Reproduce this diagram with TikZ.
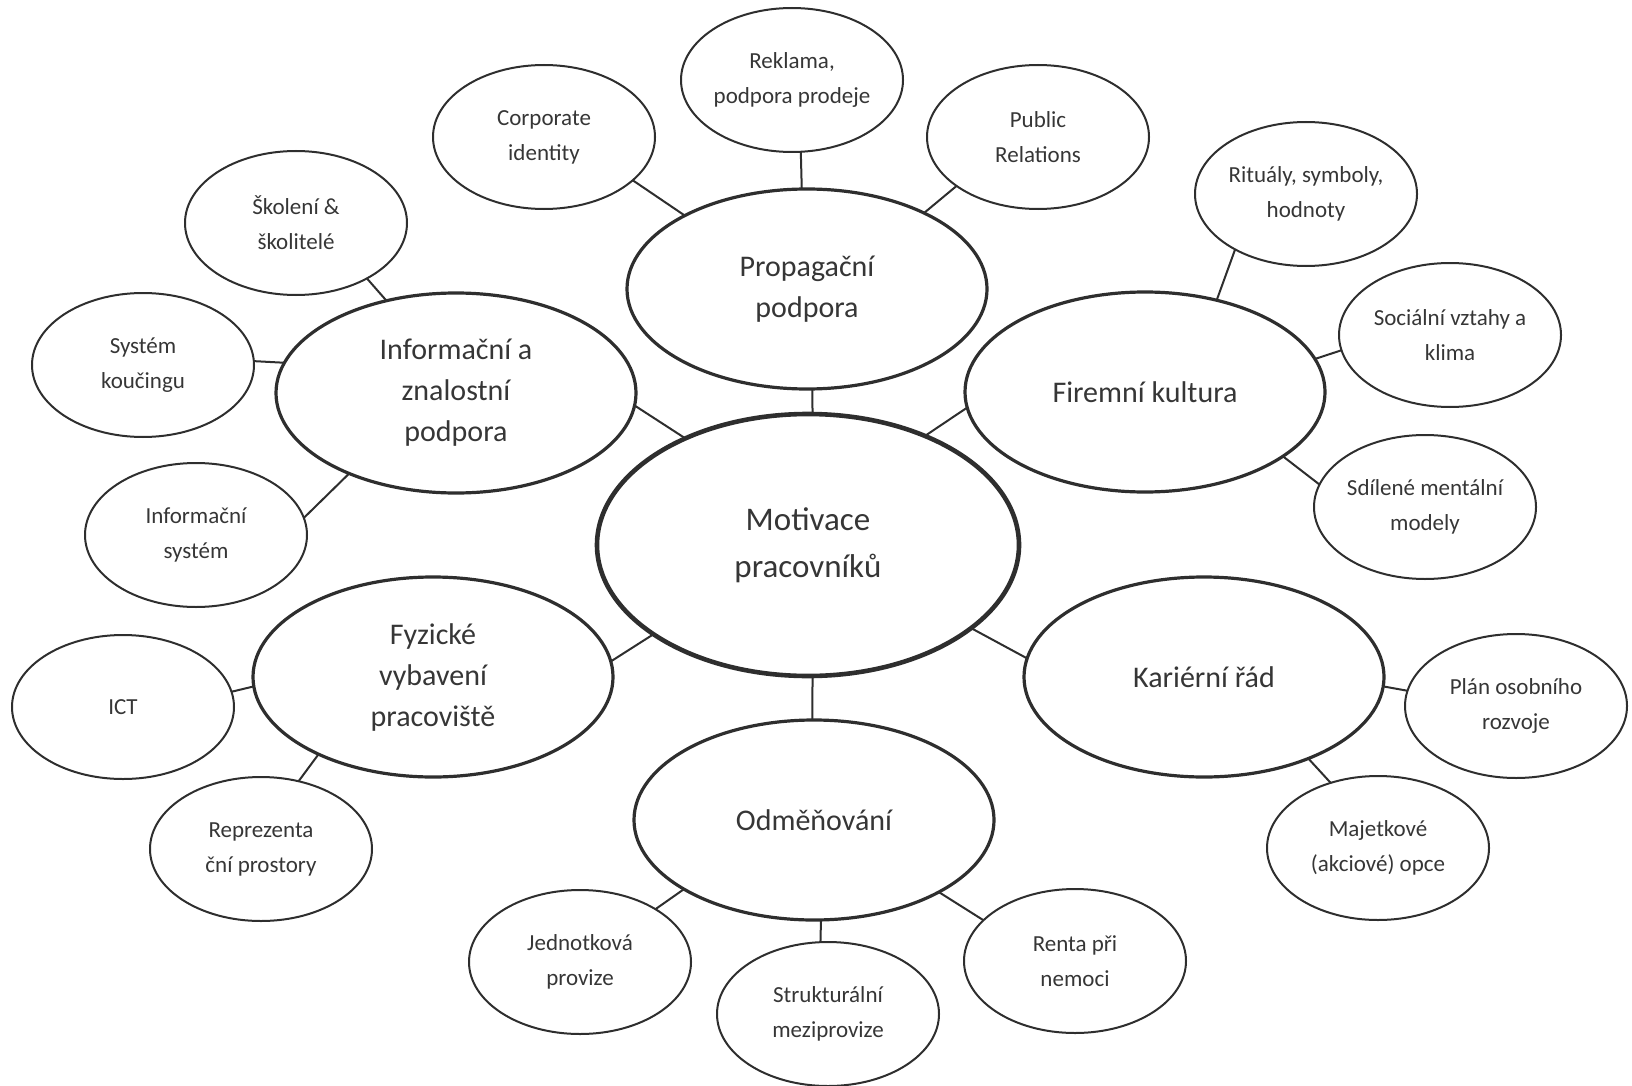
\documentclass[tikz,border=0pt]{standalone}
\usepackage{fontspec}
\setmainfont{Carlito}
\usetikzlibrary{shapes.geometric}
\definecolor{ink}{HTML}{2E2E2E}
\definecolor{txt}{HTML}{363636}
\tikzset{
  bubble/.style={ellipse, draw=ink, inner sep=0pt, outer sep=0pt, align=center, text=txt},
  leaf/.style={bubble, line width=2pt, minimum width=222pt, minimum height=144pt,
    font=\fontsize{23}{35}\selectfont},
  branch/.style={bubble, line width=3.2pt, minimum width=360pt, minimum height=200pt,
    font=\fontsize{30}{41}\selectfont},
  hub/.style={bubble, line width=4.6pt, minimum width=422pt, minimum height=262pt,
    font=\fontsize{33}{47}\selectfont},
  link/.style={draw=ink, line width=2pt}
}
\begin{document}
\begin{tikzpicture}[x=1pt,y=-1pt]
\useasboundingbox (0,0) rectangle (1632,1086);

% central topic
\node[hub] (mot) at (808,545) {Motivace\\pracovníků};

% main branches
\node[branch] (prop) at (807,289) {Propagační\\podpora};
\node[branch] (info) at (456,393) {Informační a\\znalostní\\podpora};
\node[branch] (fir) at (1145,392) {Firemní kultura};
\node[branch] (fyz) at (433,677) {Fyzické\\vybavení\\pracoviště};
\node[branch] (kar) at (1204,677) {Kariérní řád};
\node[branch] (odm) at (814,820) {Odměňování};

% leaves
\node[leaf] (rek) at (792,80) {Reklama,\\podpora prodeje};
\node[leaf] (corp) at (544,137) {Corporate\\identity};
\node[leaf] (pr) at (1038,137) {Public\\Relations};
\node[leaf] (skol) at (296,223) {Školení \&\\školitelé};
\node[leaf] (rit) at (1306,194) {Rituály, symboly,\\hodnoty};
\node[leaf] (kouc) at (143,365) {Systém\\koučingu};
\node[leaf] (soc) at (1450,335) {Sociální vztahy a\\klima};
\node[leaf] (isys) at (196,535) {Informační\\systém};
\node[leaf] (sdil) at (1425,507) {Sdílené mentální\\modely};
\node[leaf] (ict) at (123,707) {ICT};
\node[leaf] (plan) at (1516,706) {Plán osobního\\rozvoje};
\node[leaf] (repr) at (261,849) {Reprezenta\\ční prostory};
\node[leaf] (maj) at (1378,848) {Majetkové\\(akciové) opce};
\node[leaf] (jedn) at (580,962) {Jednotková\\provize};
\node[leaf] (strk) at (828,1014) {Strukturální\\meziprovize};
\node[leaf] (rent) at (1075,961) {Renta při\\nemoci};

% branches to the centre
\draw[link] (prop.-87.1) -- (mot.88.2);
\draw[link] (info.-4.4) -- (mot.139.4);
\draw[link] (fir.185.1) -- (mot.43);
\draw[link] (fyz.5.4) -- (mot.210.1);
\draw[link] (kar.174.6) -- (mot.-27);
\draw[link] (odm.91.7) -- (mot.-88.7);

% leaves to their branches
\draw[link] (rek.-83) -- (prop.93.5);
\draw[link] (corp.-26.1) -- (prop.149.3);
\draw[link] (pr.211.1) -- (prop.33.9);
\draw[link] (skol.-38) -- (info.127.3);
\draw[link] (kouc.2.6) -- (info.170.4);
\draw[link] (isys.9.2) -- (info.217.2);
\draw[link] (rit.218.9) -- (fir.52);
\draw[link] (soc.188.9) -- (fir.11.8);
\draw[link] (sdil.168.9) -- (fir.-25.2);
\draw[link] (ict.8.3) -- (fyz.183.5);
\draw[link] (repr.61.4) -- (fyz.214.5);
\draw[link] (plan.172.7) -- (kar.-3.5);
\draw[link] (maj.126.3) -- (kar.-38.9);
\draw[link] (jedn.35.5) -- (odm.208.6);
\draw[link] (strk.96.6) -- (odm.-86.6);
\draw[link] (rent.156.7) -- (odm.-30.1);
\end{tikzpicture}
\end{document}
